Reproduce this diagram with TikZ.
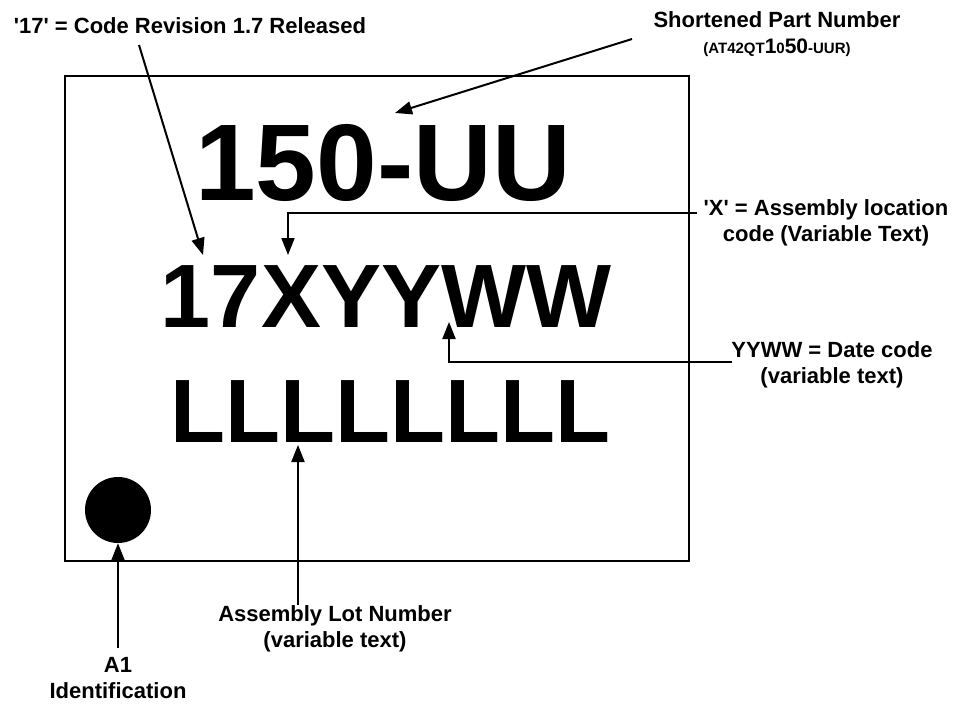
\documentclass[tikz,border=0pt]{standalone}
\usepackage{fontspec}
\newfontfamily\arialfont{Liberation Sans}
\usetikzlibrary{arrows.meta}
\begin{document}
\begin{tikzpicture}[x=1pt,y=-1pt,
  lab/.style={font=\arialfont\bfseries\fontsize{22}{26}\selectfont, align=center, inner sep=0pt, anchor=north},
  bigA/.style={font=\arialfont\bfseries\fontsize{109}{120}\selectfont, inner sep=0pt, anchor=base},
  bigB/.style={font=\arialfont\bfseries\fontsize{90}{100}\selectfont, inner sep=0pt, anchor=base},
  arr/.style={line width=2pt, -{Triangle[length=17pt,width=13pt]}}]
\useasboundingbox (0,0) rectangle (956,704);
% package outline
\node (chip) [draw, line width=2pt, minimum width=624pt, minimum height=485pt, inner sep=0pt] at (377,318.5) {};
\node (dot) [circle, fill=black, minimum size=66pt, inner sep=0pt] at (118,510) {};
% marking text
\node (pn) [bigA] at (383,200) {150-UU};
\node (code) [bigB] at (386,327) {17XYYWW};
\node (lot) [bigB] at (390,442) {LLLLLLLL};
% labels
\node (revlab) [lab, anchor=base] at (190,33) {'17' = Code Revision 1.7 Released};
\node (pnlab) [lab] at (777,11) {Shortened Part Number\\{\fontsize{15}{26}\selectfont (AT42QT}{\fontsize{21}{26}\selectfont 1}{\fontsize{15}{26}\selectfont 0}{\fontsize{21}{26}\selectfont 50}{\fontsize{15}{26}\selectfont -UUR)}};
\node (xlab) [lab] at (826,199) {'X' = Assembly location\\code (Variable Text)};
\node (dlab) [lab] at (832,341) {YYWW = Date code\\(variable text)};
\node (llab) [lab] at (335,605) {Assembly Lot Number\\(variable text)};
\node (alab) [lab] at (118,657) {A1\\Identification};
% connectors
\coordinate (revS) at (139,45);
\coordinate (revT) at (203,255);
\draw[arr] (revS) -- (revT);
\coordinate (pnS) at (632,39);
\coordinate (pnT) at (395,113);
\draw[arr] (pnS) -- (pnT);
\coordinate (xS) at (697,213);
\coordinate (xT) at (288,255);
\draw[arr] (xS) -| (xT);
\coordinate (dS) at (732,362);
\coordinate (dT) at (449,322);
\draw[arr] (dS) -| (dT);
\coordinate (lT) at (298,445);
\draw[arr] (lT |- llab.north) -- (lT);
\draw[arr] ([yshift=9pt]alab.north) -- (dot.south);
\end{tikzpicture}
\end{document}
